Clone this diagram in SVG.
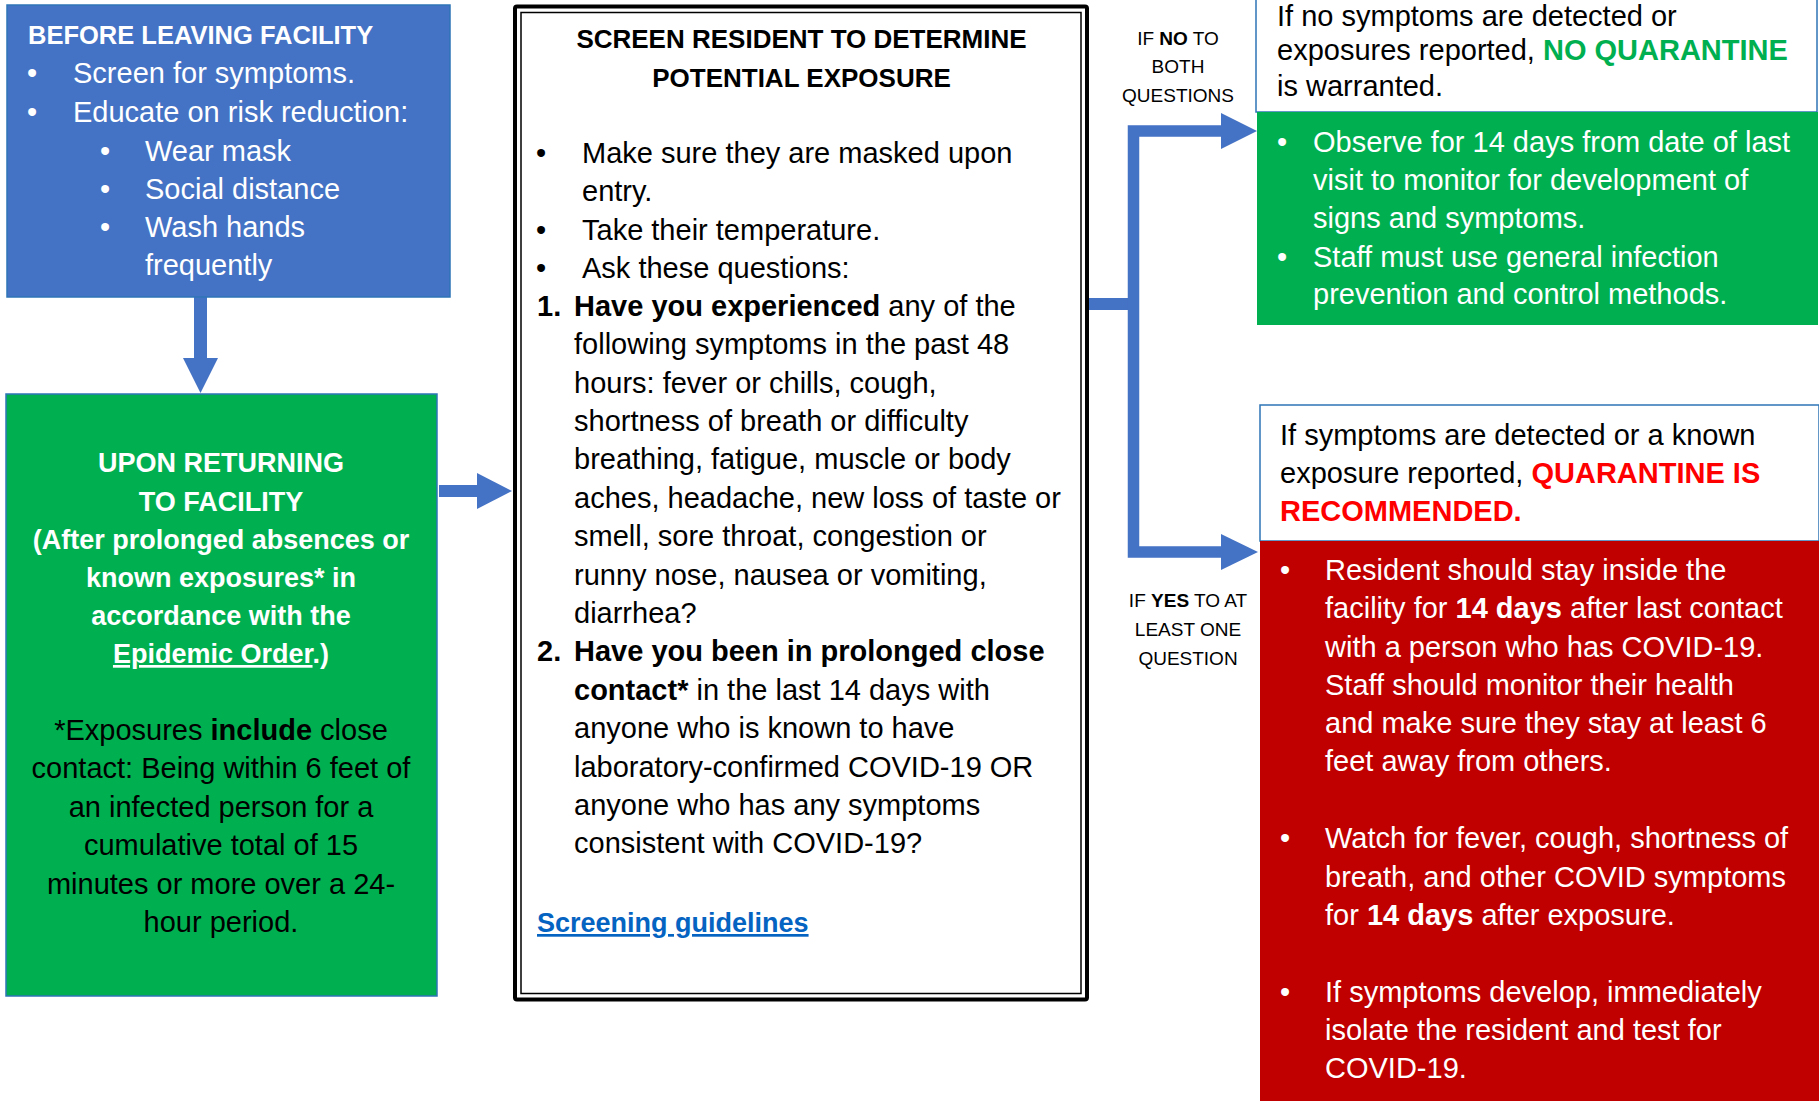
<svg xmlns="http://www.w3.org/2000/svg" width="1819" height="1101" viewBox="0 0 1819 1101">
<defs>
<style>
text{font-family:"Liberation Sans",Arial,sans-serif;font-size:29px;}
.w{fill:#FFFFFF;}
.k{fill:#000000;}
.b{font-weight:bold;}
.c{text-anchor:middle;}
.h{font-size:27px;}
.lbl{font-size:19px;fill:#000000;text-anchor:middle;}
.conn{fill:none;stroke:#4472C4;}
.head{fill:#4472C4;}
</style>
</defs>
<rect width="1819" height="1101" fill="#FFFFFF"/>

<g id="connectors">
<path class="conn" d="M200.5,297 V359" stroke-width="13"/>
<polygon class="head" points="183,358 218,358 200.5,393"/>
<path class="conn" d="M439,491 H478" stroke-width="12"/>
<polygon class="head" points="477,473 512,491 477,509"/>
<path class="conn" d="M1088,304 H1139" stroke-width="12"/>
<path class="conn" d="M1222,131 H1133.5 V552 H1222" stroke-width="11.5" stroke-linejoin="miter"/>
<polygon class="head" points="1221,113 1257,131 1221,149"/>
<polygon class="head" points="1221,534 1258,552 1221,570"/>
</g>

<g id="label-no">
<text class="lbl" x="1178" y="45">IF <tspan class="b">NO</tspan> TO</text>
<text class="lbl" x="1178" y="73">BOTH</text>
<text class="lbl" x="1178" y="102">QUESTIONS</text>
</g>
<g id="label-yes">
<text class="lbl" x="1188" y="607">IF <tspan class="b">YES</tspan> TO AT</text>
<text class="lbl" x="1188" y="636">LEAST ONE</text>
<text class="lbl" x="1188" y="665">QUESTION</text>
</g>

<g id="before-leaving">
<rect x="7" y="5" width="443" height="292" fill="#4472C4" stroke="#2E75B6" stroke-width="1.5"/>
<text class="w b" x="28" y="44" style="font-size:25.5px">BEFORE LEAVING FACILITY</text>
<text class="w c" x="32" y="83">•</text><text class="w" x="73" y="83">Screen for symptoms.</text>
<text class="w c" x="32" y="122">•</text><text class="w" x="73" y="122">Educate on risk reduction:</text>
<text class="w c" x="105" y="161">•</text><text class="w" x="145" y="161">Wear mask</text>
<text class="w c" x="105" y="199">•</text><text class="w" x="145" y="199">Social distance</text>
<text class="w c" x="105" y="237">•</text><text class="w" x="145" y="237">Wash hands</text>
<text class="w" x="145" y="275">frequently</text>
</g>

<g id="upon-returning">
<rect x="6" y="394" width="431" height="602" fill="#00B050" stroke="#2E75B6" stroke-width="1.5"/>
<text class="w b c h" x="221" y="472">UPON RETURNING</text>
<text class="w b c h" x="221" y="511">TO FACILITY</text>
<text class="w b c h" x="221" y="549">(After prolonged absences or</text>
<text class="w b c h" x="221" y="587">known exposures* in</text>
<text class="w b c h" x="221" y="625">accordance with the</text>
<text class="w b c h" x="221" y="663"><tspan text-decoration="underline" style="text-decoration:underline">Epidemic Order</tspan>.)</text>
<text class="k c" x="221" y="740">*Exposures <tspan class="b">include</tspan> close</text>
<text class="k c" x="221" y="778">contact: Being within 6 feet of</text>
<text class="k c" x="221" y="817">an infected person for a</text>
<text class="k c" x="221" y="855">cumulative total of 15</text>
<text class="k c" x="221" y="894">minutes or more over a 24-</text>
<text class="k c" x="221" y="932">hour period.</text>
</g>

<g id="screen-resident">
<rect x="515" y="6.5" width="572" height="993" rx="2" fill="#FFFFFF" stroke="#000000" stroke-width="4"/>
<rect x="521" y="12.5" width="560" height="981" fill="none" stroke="#000000" stroke-width="1.5"/>
<text class="k b c" x="801.5" y="48" style="font-size:26px">SCREEN RESIDENT TO DETERMINE</text>
<text class="k b c" x="801.5" y="87" style="font-size:26px">POTENTIAL EXPOSURE</text>
<text class="k c" x="541" y="163">•</text><text class="k" x="582" y="163">Make sure they are masked upon</text>
<text class="k" x="582" y="201">entry.</text>
<text class="k c" x="541" y="240">•</text><text class="k" x="582" y="240">Take their temperature.</text>
<text class="k c" x="541" y="278">•</text><text class="k" x="582" y="278">Ask these questions:</text>
<text class="k b" x="537" y="316">1.</text><text class="k" x="574" y="316"><tspan class="b">Have you experienced</tspan> any of the</text>
<text class="k" x="574" y="354">following symptoms in the past 48</text>
<text class="k" x="574" y="393">hours: fever or chills, cough,</text>
<text class="k" x="574" y="431">shortness of breath or difficulty</text>
<text class="k" x="574" y="469">breathing, fatigue, muscle or body</text>
<text class="k" x="574" y="508">aches, headache, new loss of taste or</text>
<text class="k" x="574" y="546">smell, sore throat, congestion or</text>
<text class="k" x="574" y="585">runny nose, nausea or vomiting,</text>
<text class="k" x="574" y="623">diarrhea?</text>
<text class="k b" x="537" y="661">2.</text><text class="k b" x="574" y="661">Have you been in prolonged close</text>
<text class="k" x="574" y="700"><tspan class="b">contact*</tspan> in the last 14 days with</text>
<text class="k" x="574" y="738">anyone who is known to have</text>
<text class="k" x="574" y="777">laboratory-confirmed COVID-19 OR</text>
<text class="k" x="574" y="815">anyone who has any symptoms</text>
<text class="k" x="574" y="853">consistent with COVID-19?</text>
<text class="b" x="537" y="932" fill="#0563C1" style="font-size:27px;text-decoration:underline" text-decoration="underline">Screening guidelines</text>
</g>

<g id="no-quarantine">
<rect x="1256" y="-5" width="561" height="117" fill="#FFFFFF" stroke="#2E75B6" stroke-width="1.5"/>
<text class="k" x="1277" y="26">If no symptoms are detected or</text>
<text class="k" x="1277" y="60">exposures reported, <tspan class="b" fill="#00B050">NO QUARANTINE</tspan></text>
<text class="k" x="1277" y="96">is warranted.</text>
</g>

<g id="observe">
<rect x="1257" y="112" width="561" height="213" fill="#00B050"/>
<text class="w c" x="1282" y="152">•</text><text class="w" x="1313" y="152">Observe for 14 days from date of last</text>
<text class="w" x="1313" y="190">visit to monitor for development of</text>
<text class="w" x="1313" y="228">signs and symptoms.</text>
<text class="w c" x="1282" y="267">•</text><text class="w" x="1313" y="267">Staff must use general infection</text>
<text class="w" x="1313" y="304">prevention and control methods.</text>
</g>

<g id="quarantine">
<rect x="1260" y="405" width="559" height="136" fill="#FFFFFF" stroke="#2E75B6" stroke-width="1.5"/>
<text class="k" x="1280" y="445">If symptoms are detected or a known</text>
<text class="k" x="1280" y="483">exposure reported, <tspan class="b" fill="#FF0000">QUARANTINE IS</tspan></text>
<text class="b" x="1280" y="521" fill="#FF0000">RECOMMENDED.</text>
</g>

<g id="quarantine-steps">
<rect x="1260" y="541" width="559" height="560" fill="#C00000"/>
<text class="w c" x="1285" y="580">•</text><text class="w" x="1325" y="580">Resident should stay inside the</text>
<text class="w" x="1325" y="618">facility for <tspan class="b">14 days</tspan> after last contact</text>
<text class="w" x="1325" y="657">with a person who has COVID-19.</text>
<text class="w" x="1325" y="695">Staff should monitor their health</text>
<text class="w" x="1325" y="733">and make sure they stay at least 6</text>
<text class="w" x="1325" y="771">feet away from others.</text>
<text class="w c" x="1285" y="848">•</text><text class="w" x="1325" y="848">Watch for fever, cough, shortness of</text>
<text class="w" x="1325" y="887">breath, and other COVID symptoms</text>
<text class="w" x="1325" y="925">for <tspan class="b">14 days</tspan> after exposure.</text>
<text class="w c" x="1285" y="1002">•</text><text class="w" x="1325" y="1002">If symptoms develop, immediately</text>
<text class="w" x="1325" y="1040">isolate the resident and test for</text>
<text class="w" x="1325" y="1078">COVID-19.</text>
</g>
</svg>
